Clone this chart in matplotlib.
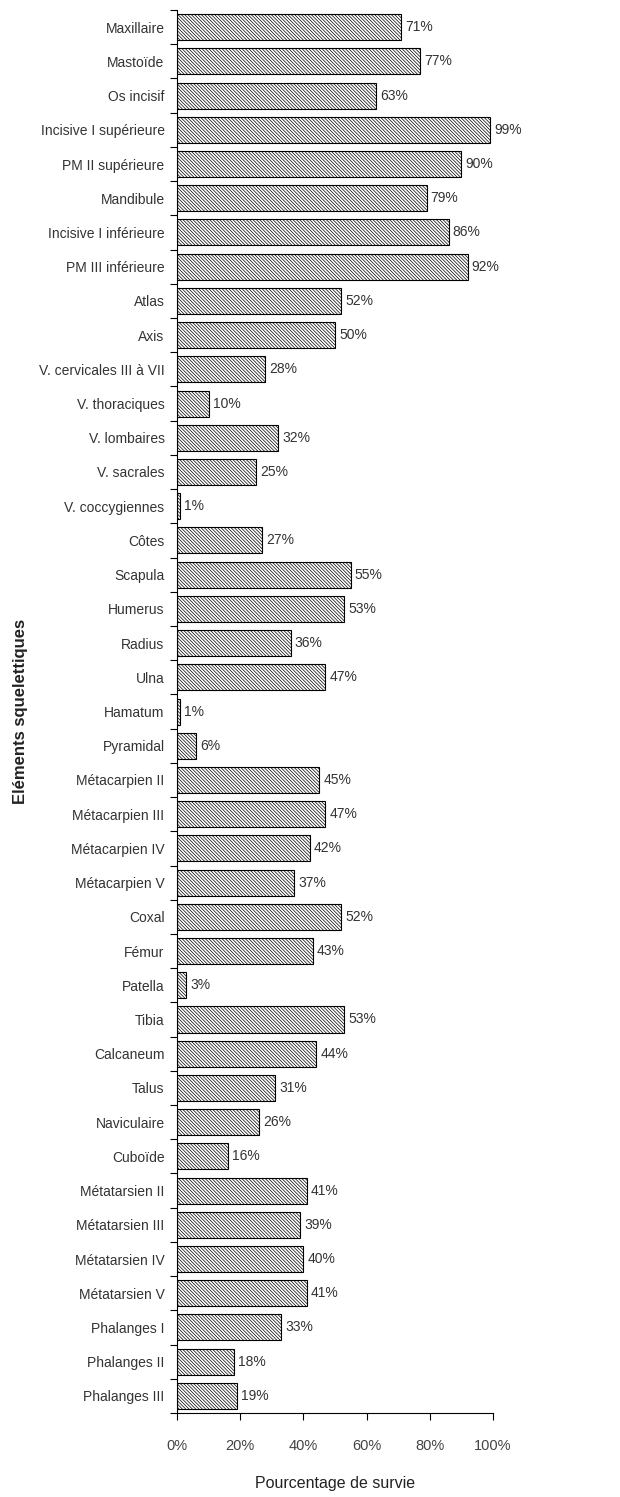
import matplotlib
matplotlib.use("Agg")
import matplotlib.pyplot as plt
import numpy as np

# skeletal elements, top to bottom
elements = ["Maxillaire", "Mastoïde", "Os incisif", "Incisive I supérieure",
            "PM II supérieure", "Mandibule", "Incisive I inférieure",
            "PM III inférieure", "Atlas", "Axis", "V. cervicales III à VII",
            "V. thoraciques", "V. lombaires", "V. sacrales", "V. coccygiennes",
            "Côtes", "Scapula", "Humerus", "Radius", "Ulna", "Hamatum",
            "Pyramidal", "Métacarpien II", "Métacarpien III", "Métacarpien IV",
            "Métacarpien V", "Coxal", "Fémur", "Patella", "Tibia", "Calcaneum",
            "Talus", "Naviculaire", "Cuboïde", "Métatarsien II",
            "Métatarsien III", "Métatarsien IV", "Métatarsien V",
            "Phalanges I", "Phalanges II", "Phalanges III"]

survival = [71, 77, 63, 99, 90, 79, 86, 92, 52, 50, 28, 10, 32, 25, 1,
            27, 55, 53, 36, 47, 1, 6, 45, 47, 42, 37, 52, 43, 3, 53, 44,
            31, 26, 16, 41, 39, 40, 41, 33, 18, 19]

x_ticks = [0, 20, 40, 60, 80, 100]

plt.rcParams['font.family'] = ['Liberation Sans', 'DejaVu Sans']
plt.rcParams['hatch.linewidth'] = 0.5

fig = plt.figure(figsize=(6.2, 14.97), dpi=100)
ax = fig.add_axes([0.2855, 0.0561, 0.5095, 0.9372])

pos = np.arange(len(elements))
ax.barh(pos, survival, height=0.76, color="white", edgecolor="black",
        linewidth=0.8, hatch="\\" * 10)

# value labels at the end of each bar
for p, v in zip(pos, survival):
    ax.annotate(f"{v}%", (v, p), xytext=(3, 0), textcoords="offset points",
                va="center", ha="left", fontsize=10, color="#333333")

ax.set_ylim(len(elements) - 0.5, -0.5)
ax.set_xlim(0, 100)

# category labels, ticks sit between the bars
ax.set_yticks(pos)
ax.set_yticklabels(elements, fontsize=10, color="#333333")
ax.tick_params(axis="y", which="major", length=0, pad=9)
ax.set_yticks(np.arange(len(elements) + 1) - 0.5, minor=True)
ax.tick_params(axis="y", which="minor", length=5, width=0.8)

ax.set_xticks(x_ticks)
ax.set_xticklabels([f"{t}%" for t in x_ticks], fontsize=10.5, color="#444444")
ax.tick_params(axis="x", length=5, width=0.8, pad=14)

for side in ["top", "right"]:
    ax.spines[side].set_visible(False)
ax.spines["left"].set_linewidth(0.8)
ax.spines["bottom"].set_linewidth(0.8)

ax.set_xlabel("Pourcentage de survie", fontsize=11.5, labelpad=16,
              color="#222222")
ax.set_ylabel("Eléments squelettiques", fontsize=12, fontweight="bold",
              labelpad=8, color="#222222")

fig.savefig("out.png", dpi=100)
